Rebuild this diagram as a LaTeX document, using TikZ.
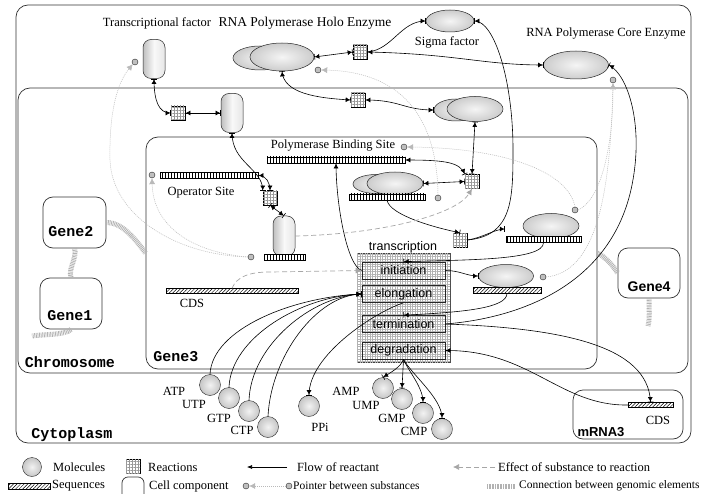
\documentclass[tikz,border=0pt]{standalone}
\usepackage{fontspec}
\setmainfont{Liberation Serif}
\newfontfamily\arl{Liberation Sans}
\newfontfamily\cou{Liberation Mono}
\usetikzlibrary{shapes.geometric,arrows.meta,patterns.meta,calc}
\tikzset{
 fa/.tip={Latex[length=4.5pt,width=5pt] Bar[width=6pt,line width=.6pt]},
 flow/.style={draw=black, line width=.6pt, -fa},
 flowb/.style={draw=black, line width=.6pt, fa-fa},
 eff/.style={draw=gray!70, line width=.7pt, dash pattern=on 5pt off 3pt, -{Latex[length=6pt,width=6pt]}},
 ptr/.style={draw=gray!55, line width=.5pt, dash pattern=on 1pt off 1pt, -{Latex[length=6pt,width=6pt]}},
 gen/.style={draw=gray!60, line width=5pt, dash pattern=on .8pt off .8pt},
 mol/.style={circle, draw=gray!30!black, inner color=gray!10, outer color=gray!45, minimum size=21pt, inner sep=0},
 rxn/.style={rectangle, draw=black, line width=.5pt, minimum size=14pt, inner sep=0, fill=white,
   postaction={pattern={Hatch[angle=0,distance=3pt,line width=.35pt]}, pattern color=gray!80}},
 enz/.style={ellipse, draw=gray!30!black, line width=.5pt, inner color=gray!8, outer color=gray!40, inner sep=0},
 capsl/.style={rectangle, rounded corners=8pt, draw=gray!30!black, line width=.5pt, left color=gray!50, right color=gray!20, middle color=gray!5, minimum width=22pt, minimum height=39pt, inner sep=0},
 seqv/.style={rectangle, draw=black, line width=.5pt, minimum height=6pt, inner sep=0, fill=white,
   postaction={pattern={Lines[angle=90,distance=3pt,line width=.6pt]}}},
 seqd/.style={rectangle, draw=black, line width=.5pt, minimum height=6pt, inner sep=0, fill=white,
   postaction={pattern={Lines[angle=45,distance=2.5pt,line width=.5pt]}}},
 ptc/.style={circle, draw=gray!30!black, fill=gray!50, line width=.4pt, minimum size=6pt, inner sep=0},
 cont/.style={rectangle, draw=black!80, line width=.7pt, rounded corners=12pt, inner sep=0},
 gbox/.style={rectangle, draw=black!80, line width=.7pt, rounded corners=10pt, inner sep=0, minimum width=63pt, minimum height=51pt},
 ser/.style={font=\fontsize{12.5}{14}\selectfont, inner sep=0},
 sers/.style={font=\fontsize{11.5}{13}\selectfont, inner sep=0},
 san/.style={font=\arl\fontsize{12.5}{14}\selectfont, inner sep=0},
 cb/.style={font=\cou\bfseries\fontsize{15}{16}\selectfont, inner sep=0},
 ab/.style={font=\arl\bfseries\fontsize{14}{16}\selectfont, inner sep=0},
 sub/.style={rectangle, draw=gray!30!black, line width=.6pt, minimum width=83pt, minimum height=17pt, inner sep=0, font=\arl\fontsize{12.5}{14}\selectfont},
}
\begin{document}
\begin{tikzpicture}[x=1pt,y=-1pt]
\fill[white] (0,0) rectangle (703,494);
\useasboundingbox (0,0) rectangle (703,494);
% containers
\node[cont, minimum width=675pt, minimum height=438pt] (cyto) at (353.5,224) {};
\node[cont, minimum width=670pt, minimum height=285pt] (chrom) at (353,230.5) {};
\node[cont, minimum width=451pt, minimum height=232pt] (gene3) at (371.5,253) {};
\node[cont, rounded corners=10pt, minimum width=110pt, minimum height=49pt] (mrna) at (628,414.5) {};
\node[gbox] (g2) at (74.5,222.5) {};
\node[gbox, minimum width=62pt] (g1) at (71,303.5) {};
\node[gbox, minimum width=62pt, minimum height=50pt] (g4) at (649,273) {};
\node[cb] at (70,362) {Chromosome};
\node[cb] at (72,435) {Cytoplasm};
\node[cb] at (176,357) {Gene3};
\node[cb] at (71,232) {Gene2};
\node[cb] at (70,316) {Gene1};
\node[ab] at (649,287) {Gene4};
\node[ab, font=\arl\bfseries\fontsize{13}{15}\selectfont] at (601,432) {mRNA3};
% genomic connections
\coordinate (g1e) at (32,336);
\coordinate (g4e) at (648,326);
\draw[gen] (g2.south) .. controls +(3,10) and +(-3,-10) .. (g1.north);
\draw[gen] (g2.east) .. controls +(18,0) and +(-8,-10) .. (gene3.west);
\draw[gen] (g1.south) .. controls +(-6,6) and +(12,-2) .. (g1e);
\draw[gen] (g4.south) .. controls +(0,10) and +(2,-8) .. (g4e);
\draw[gen] (gene3.east) .. controls +(8,4) and +(-5,-8) .. (g4.west);
% top row
\node[ser] at (157,23) {Transcriptional factor};
\node[capsl] (tf) at (154,59) {};
\node[ptc] (tfc) at (135,62) {};
\node[ser, font=\fontsize{13.5}{15}\selectfont] at (305,23) {RNA Polymerase Holo Enzyme};
\node[enz, minimum width=54pt, minimum height=24pt] (holob) at (260,58) {};
\node[enz, minimum width=64pt, minimum height=28pt] (holo) at (282,57) {};
\node[ptc] (holoc) at (318,70) {};
\node[rxn] (r2) at (360,52) {};
\node[enz, minimum width=48pt, minimum height=22pt] (sig) at (450,21) {};
\node[ser] at (447,42) {Sigma factor};
\node[ser] at (606,34) {RNA Polymerase Core Enzyme};
\node[enz, minimum width=65pt, minimum height=28pt] (core) at (576,65) {};
\node[ptc] (corec) at (613,80) {};
% second row
\node[rxn] (r1) at (178,113) {};
\node[capsl] (tf2) at (232,113) {};
\node[rxn] (r3) at (358,100) {};
\node[enz, minimum width=44pt, minimum height=22pt] (holo2b) at (456,110) {};
\node[enz, minimum width=56pt, minimum height=25pt] (holo2) at (475,109) {};
% gene3 internals
\node[ser] at (333,146) {Polymerase Binding Site};
\node[ptc] (pbsc) at (404,147) {};
\node[seqv, minimum width=138pt] (pbs) at (336,160) {};
\node[seqv, minimum width=98pt] (op) at (209,175.5) {};
\node[ptc] (opc) at (152,175) {};
\node[ser] at (201,193) {Operator Site};
\node[rxn] (r4) at (270,198) {};
\node[capsl, minimum height=40pt] (tf3) at (284,236) {};
\node[seqv, minimum width=41pt] (tf3s) at (284.5,257) {};
\node[ptc] (tf3c) at (251,257) {};
\node[enz, minimum width=46pt, minimum height=19pt] (ppb) at (376,184) {};
\node[enz, minimum width=56pt, minimum height=23pt] (pp) at (395,183.5) {};
\node[seqv, minimum width=76pt] (pps) at (387,197) {};
\node[ptc] (ppc) at (438,198) {};
\node[rxn] (r5) at (472,181.5) {};
\node[rxn] (r6) at (460,240) {};
\node[enz, minimum width=56pt, minimum height=25pt] (oc) at (551,226) {};
\node[seqv, minimum width=75pt] (ocs) at (543.5,239.5) {};
\node[ptc] (occ) at (575,210) {};
\node[enz, minimum width=55pt, minimum height=23pt] (ep) at (506,276) {};
\node[seqd, minimum width=68pt] (eps) at (507,290) {};
\node[ptc] (epc) at (543,277) {};
\node[seqd, minimum width=132pt, minimum height=5pt] (cds) at (232,291) {};
\node[ser] at (192,303) {CDS};
% transcription block
\node[rectangle, draw=gray!50!black, line width=.5pt, minimum width=93pt, minimum height=109pt, inner sep=0, fill=white,
  postaction={pattern={Hatch[angle=0,distance=2.5pt,line width=.3pt]}, pattern color=gray!60}] (tblk) at (403.5,307.5) {};
\node[san] at (403,247) {transcription};
\node[sub] (init) at (403.5,270.5) {initiation};
\node[sub] (elong) at (403.5,294) {elongation};
\node[sub] (term) at (403.5,324) {termination};
\node[sub] (deg) at (403.5,350.5) {degradation};
% molecules
\node[mol] (atp) at (210,385) {};
\node[ser] at (174,391) {ATP};
\node[mol] (utp) at (229,398) {};
\node[ser] at (194,404) {UTP};
\node[mol] (gtp) at (249,411) {};
\node[ser] at (219,418) {GTP};
\node[mol] (ctp) at (268,427) {};
\node[ser] at (242,430) {CTP};
\node[mol] (ppi) at (309,406) {};
\node[ser] at (320,427) {PPi};
\node[mol] (amp) at (383,388) {};
\node[ser] at (346,391) {AMP};
\node[mol] (ump) at (402,399) {};
\node[ser] at (366,405) {UMP};
\node[mol] (gmp) at (423,413) {};
\node[ser] at (392,418) {GMP};
\node[mol] (cmp) at (442,429) {};
\node[ser] at (414,431) {CMP};
% mRNA3
\node[seqd, minimum width=45pt, minimum height=5pt] (mcds) at (650.5,405) {};
\node[ser] at (658,420) {CDS};
% flow connectors
\coordinate (ocin) at (505,229);
\draw[flowb] (tf.south) .. controls +(0,22) and +(-12,0) .. (r1.west);
\draw[flowb] (r1.east) -- (tf2.west);
\draw[flowb] (tf2.south) .. controls +(0,30) and +(0,-22) .. (r4.north west);
\draw[flowb] (op.east) .. controls +(8,0) and +(0,-8) .. (r4.north);
\draw[flowb] (r4.south) -- (tf3.north);
\draw[flowb] (holo.south) .. controls +(2,22) and +(-35,-2) .. (r3.west);
\draw[flowb] (r3.east) .. controls +(35,0) and +(-30,0) .. (holo2b.west);
\draw[flowb] (holo.east) -- (r2.west);
\draw[flowb] (r2.east) .. controls +(90,2) and +(-60,0) .. (core.west);
\draw[flow] (r2.east) .. controls +(25,-2) and +(-25,0) .. (sig.west);
\draw[flow] (r6.east) .. controls +(45,-4) and +(0,50) .. (513,150) .. controls +(0,-70) and +(20,0) .. (sig.east);
\draw[flow] (r6.east) .. controls +(15,-2) and +(-10,0) .. (ocin);
\draw[flowb] (holo2.south) -- (r5.north);
\draw[flowb] (pbs.east) .. controls +(40,0) and +(-5,-12) .. (r5.north west);
\draw[flowb] (pp.east) -- (r5.west);
\draw[flow] (pps.south) .. controls +(3,15) and +(-25,-5) .. (r6.north);
\draw[flow] (ocs.south) .. controls +(0,18) and +(60,-2) .. (init.north);
\draw[flow] (init.east) .. controls +(15,0) and +(-12,0) .. (ep.west);
\draw[flow] (eps.south) .. controls +(0,15) and +(60,-3) .. (term.north);
\draw[flow] (term.east) .. controls (520,318) and (612,285) .. (632,185) .. controls (644,125) and (628,75) .. (core.east);
\draw[flow] (term.east) .. controls (560,328) and (648,345) .. (mcds.north);
\draw[flow] (mcds.west) .. controls (560,406) and (530,350) .. (deg.east);
\draw[flow] (atp.north) .. controls +(2,-45) and +(-70,3) .. (elong.west);
\draw[flow] (utp.north) .. controls +(2,-50) and +(-60,2) .. (elong.west);
\draw[flow] (gtp.north) .. controls +(2,-55) and +(-50,2) .. (elong.west);
\draw[flow] (ctp.north) .. controls +(3,-60) and +(-45,1) .. (elong.west);
\draw[flow] (elong.south) .. controls +(-30,10) and +(0,-40) .. (ppi.north);
\draw[flow] (deg.south) .. controls +(-3,8) and +(8,-5) .. (amp.north);
\draw[flow] (deg.south) -- (ump.north);
\draw[flow] (deg.south) .. controls +(5,12) and +(0,-15) .. (gmp.north);
\draw[flow] (deg.south) .. controls +(8,15) and +(0,-20) .. (cmp.north);
\draw[flow] (init.west) .. controls +(-15,-5) and +(0,40) .. (pbs.south);
% effects
\draw[eff] (cds.north) .. controls +(5,-12) and +(-20,0) .. (270,272) -- (init.west);
\draw[eff] (tf3.east) .. controls +(90,-2) and +(-15,25) .. (r5.south);
% pointers
\draw[ptr] (tf3c.west) .. controls (175,255) and (112,215) .. (110,160) .. controls (109,110) and (118,82) .. (tfc.south west);
\draw[ptr] (tf3c.west) .. controls (190,252) and (153,225) .. (opc.south);
\draw[ptr] (ppc.north) .. controls (437,115) and (400,72) .. (holoc.east);
\draw[ptr] (occ.north) .. controls (568,170) and (500,148) .. (pbsc.east);
\draw[ptr] (occ.east) .. controls (600,200) and (613,150) .. (corec.south);
\draw[ptr] (epc.east) .. controls (595,272) and (610,200) .. (corec.south);
% legend
\node[mol, minimum size=19pt] (lm) at (32,467) {};
\node[ser, anchor=west] at (53,467) {Molecules};
\node[rxn] (lr) at (133,466.5) {};
\node[ser, anchor=west] at (148,467) {Reactions};
\coordinate (lf1) at (247,467); \coordinate (lf2) at (287,467);
\draw[draw=black, line width=.6pt, -{Latex[length=5pt,width=4pt]}] (lf2) -- (lf1);
\node[ser, anchor=west] at (297,467) {Flow of reactant};
\coordinate (le1) at (453,467); \coordinate (le2) at (495,467);
\draw[eff] (le2) -- (le1);
\node[ser, anchor=west] at (498,467) {Effect of substance to reaction};
\node[seqd, minimum width=42pt] (ls) at (29,486) {};
\node[ser, anchor=west] at (52,486) {Sequences};
\node[rectangle, draw=black!80, line width=.7pt, rounded corners=6pt, minimum width=22pt, minimum height=24pt] (lc) at (133,489) {};
\node[ser, anchor=west] at (149,486) {Cell component};
\node[ptc] (lp1) at (246,486) {};
\node[ptc] (lp2) at (289,486) {};
\draw[ptr] (lp2) -- (lp1);
\node[sers, anchor=west] at (293,486) {Pointer between substances};
\coordinate (lg1) at (487,486); \coordinate (lg2) at (515,486);
\draw[gen] (lg1) -- (lg2);
\node[sers, anchor=west] at (519,486) {Connection between genomic elements};
\end{tikzpicture}
\end{document}
